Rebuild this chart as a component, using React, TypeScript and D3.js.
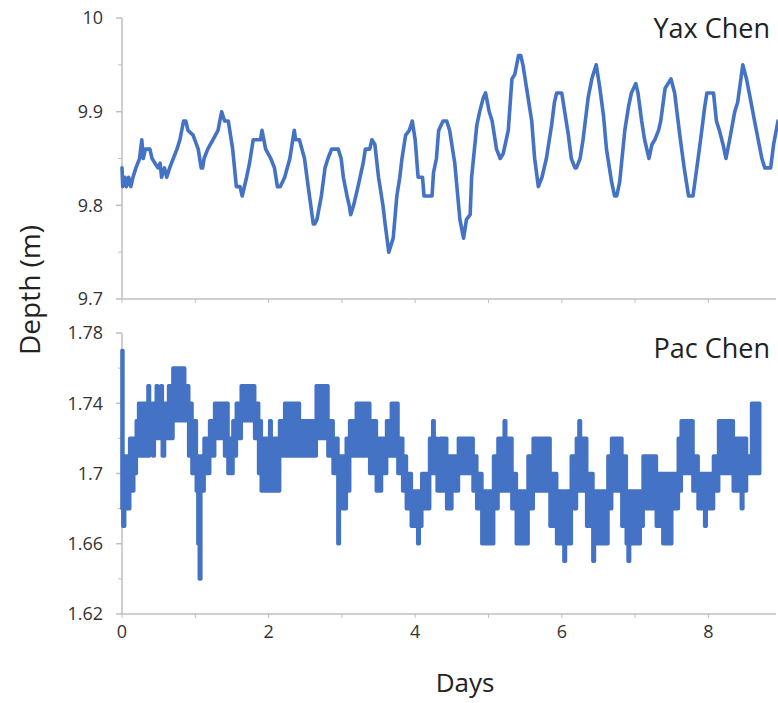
import React from "react";
import * as d3 from "d3";

// Yax Chen water depth: [day, depth (m)]
const yaxChen: [number, number][] = [
  [0.0, 9.84], [0.01, 9.82], [0.04, 9.83], [0.06, 9.82], [0.09, 9.83], [0.12, 9.82], [0.15, 9.83],
  [0.19, 9.84], [0.24, 9.85], [0.27, 9.87], [0.29, 9.85], [0.32, 9.86], [0.38, 9.86], [0.41, 9.85],
  [0.45, 9.845], [0.49, 9.84], [0.52, 9.845], [0.54, 9.83], [0.58, 9.84], [0.61, 9.83], [0.65, 9.84],
  [0.7, 9.85], [0.75, 9.86], [0.79, 9.87], [0.84, 9.89], [0.87, 9.89], [0.9, 9.88], [0.97, 9.875],
  [1.04, 9.86], [1.08, 9.84], [1.1, 9.84], [1.12, 9.85], [1.17, 9.86], [1.24, 9.87], [1.31, 9.88],
  [1.36, 9.9], [1.4, 9.89], [1.45, 9.89], [1.51, 9.86], [1.56, 9.82], [1.61, 9.82], [1.64, 9.81],
  [1.7, 9.83], [1.74, 9.845], [1.79, 9.87], [1.89, 9.87], [1.91, 9.88], [1.96, 9.86], [2.03, 9.85],
  [2.08, 9.84], [2.12, 9.82], [2.16, 9.82], [2.22, 9.83], [2.29, 9.85], [2.35, 9.88], [2.37, 9.87],
  [2.42, 9.87], [2.49, 9.85], [2.54, 9.82], [2.61, 9.78], [2.63, 9.78], [2.66, 9.785], [2.72, 9.81],
  [2.77, 9.84], [2.81, 9.85], [2.86, 9.86], [2.95, 9.86], [2.99, 9.85], [3.02, 9.83], [3.07, 9.81],
  [3.1, 9.8], [3.12, 9.79], [3.16, 9.8], [3.22, 9.82], [3.29, 9.845], [3.32, 9.86], [3.38, 9.86],
  [3.41, 9.87], [3.45, 9.865], [3.5, 9.83], [3.56, 9.8], [3.59, 9.78], [3.64, 9.75], [3.7, 9.765],
  [3.75, 9.81], [3.79, 9.83], [3.82, 9.85], [3.87, 9.875], [3.92, 9.88], [3.96, 9.89], [4.0, 9.87],
  [4.04, 9.83], [4.1, 9.83], [4.12, 9.81], [4.23, 9.81], [4.25, 9.835], [4.29, 9.85], [4.32, 9.88],
  [4.38, 9.89], [4.43, 9.89], [4.47, 9.88], [4.54, 9.845], [4.61, 9.785], [4.66, 9.765], [4.7, 9.785],
  [4.75, 9.79], [4.77, 9.83], [4.84, 9.885], [4.88, 9.9], [4.93, 9.915], [4.96, 9.92], [5.01, 9.9],
  [5.05, 9.89], [5.11, 9.86], [5.16, 9.85], [5.2, 9.855], [5.27, 9.88], [5.32, 9.935], [5.36, 9.94],
  [5.41, 9.96], [5.44, 9.96], [5.47, 9.95], [5.52, 9.925], [5.59, 9.89], [5.63, 9.85], [5.68, 9.82],
  [5.73, 9.83], [5.79, 9.85], [5.86, 9.885], [5.9, 9.91], [5.93, 9.92], [6.0, 9.92], [6.04, 9.9],
  [6.09, 9.875], [6.13, 9.85], [6.18, 9.84], [6.2, 9.84], [6.25, 9.85], [6.29, 9.87], [6.36, 9.915],
  [6.41, 9.935], [6.47, 9.95], [6.52, 9.925], [6.57, 9.895], [6.61, 9.86], [6.68, 9.825], [6.72, 9.81],
  [6.75, 9.81], [6.79, 9.825], [6.86, 9.88], [6.91, 9.905], [6.95, 9.92], [7.01, 9.93], [7.04, 9.92],
  [7.09, 9.89], [7.13, 9.87], [7.19, 9.85], [7.23, 9.865], [7.27, 9.87], [7.32, 9.88], [7.35, 9.89],
  [7.41, 9.925], [7.49, 9.935], [7.54, 9.92], [7.61, 9.875], [7.67, 9.84], [7.73, 9.81], [7.79, 9.81],
  [7.86, 9.85], [7.91, 9.88], [7.95, 9.905], [7.98, 9.92], [8.07, 9.92], [8.11, 9.89], [8.15, 9.88],
  [8.2, 9.865], [8.24, 9.85], [8.29, 9.87], [8.36, 9.9], [8.4, 9.91], [8.47, 9.95], [8.52, 9.935],
  [8.57, 9.915], [8.63, 9.89], [8.68, 9.87], [8.73, 9.85], [8.77, 9.84], [8.85, 9.84], [8.89, 9.865],
  [8.95, 9.89],
];

// Pac Chen water depth, fast oscillation range: [start day, low (m), high (m)]
const pacChen: [number, number, number][] = [
  [0.0, 1.68, 1.77], [0.012, 1.67, 1.71], [0.036, 1.68, 1.71], [0.105, 1.69, 1.72], [0.16, 1.7, 1.72],
  [0.195, 1.71, 1.73], [0.227, 1.71, 1.74], [0.355, 1.71, 1.75], [0.375, 1.72, 1.74], [0.42, 1.71, 1.74],
  [0.44, 1.72, 1.74], [0.468, 1.72, 1.75], [0.485, 1.72, 1.74], [0.53, 1.72, 1.75], [0.55, 1.71, 1.74],
  [0.58, 1.72, 1.74], [0.636, 1.72, 1.75], [0.695, 1.73, 1.76], [0.855, 1.73, 1.75], [0.91, 1.71, 1.74],
  [0.955, 1.7, 1.73], [1.014, 1.69, 1.71], [1.036, 1.66, 1.71], [1.055, 1.64, 1.7], [1.075, 1.69, 1.71],
  [1.12, 1.7, 1.72], [1.196, 1.71, 1.73], [1.264, 1.72, 1.74], [1.4, 1.71, 1.74], [1.446, 1.7, 1.72],
  [1.514, 1.71, 1.73], [1.56, 1.72, 1.74], [1.627, 1.73, 1.75], [1.81, 1.72, 1.74], [1.864, 1.7, 1.73],
  [1.9, 1.69, 1.72], [2.015, 1.7, 1.73], [2.035, 1.69, 1.72], [2.15, 1.71, 1.73], [2.22, 1.71, 1.74],
  [2.42, 1.71, 1.73], [2.65, 1.72, 1.75], [2.81, 1.71, 1.73], [2.88, 1.7, 1.72], [2.946, 1.66, 1.71],
  [2.965, 1.68, 1.71], [3.06, 1.69, 1.72], [3.106, 1.71, 1.73], [3.197, 1.71, 1.74], [3.38, 1.7, 1.73],
  [3.47, 1.69, 1.72], [3.54, 1.7, 1.72], [3.61, 1.71, 1.73], [3.675, 1.71, 1.74], [3.765, 1.7, 1.72],
  [3.83, 1.69, 1.71], [3.88, 1.68, 1.7], [3.947, 1.67, 1.69], [4.035, 1.66, 1.69], [4.055, 1.67, 1.69],
  [4.09, 1.68, 1.7], [4.197, 1.7, 1.72], [4.24, 1.7, 1.73], [4.258, 1.7, 1.72], [4.3, 1.69, 1.71],
  [4.34, 1.69, 1.72], [4.43, 1.68, 1.71], [4.5, 1.69, 1.71], [4.59, 1.7, 1.72], [4.79, 1.69, 1.71],
  [4.84, 1.68, 1.7], [4.91, 1.66, 1.69], [5.07, 1.68, 1.71], [5.13, 1.69, 1.72], [5.215, 1.69, 1.73],
  [5.235, 1.69, 1.72], [5.32, 1.68, 1.7], [5.38, 1.66, 1.69], [5.54, 1.68, 1.71], [5.61, 1.69, 1.72],
  [5.84, 1.67, 1.7], [5.93, 1.66, 1.69], [6.03, 1.65, 1.68], [6.05, 1.66, 1.69], [6.13, 1.68, 1.71],
  [6.2, 1.69, 1.72], [6.235, 1.69, 1.73], [6.255, 1.69, 1.72], [6.34, 1.67, 1.7], [6.425, 1.65, 1.69],
  [6.445, 1.66, 1.69], [6.63, 1.68, 1.71], [6.68, 1.69, 1.72], [6.82, 1.67, 1.71], [6.88, 1.66, 1.69],
  [6.905, 1.65, 1.69], [6.925, 1.66, 1.69], [7.07, 1.67, 1.69], [7.11, 1.68, 1.71], [7.29, 1.67, 1.7],
  [7.38, 1.66, 1.7], [7.5, 1.68, 1.7], [7.59, 1.69, 1.72], [7.63, 1.7, 1.73], [7.79, 1.69, 1.71],
  [7.86, 1.68, 1.7], [7.95, 1.67, 1.7], [7.97, 1.68, 1.7], [8.07, 1.69, 1.71], [8.14, 1.7, 1.73],
  [8.34, 1.69, 1.72], [8.45, 1.68, 1.72], [8.47, 1.69, 1.72], [8.52, 1.7, 1.71], [8.59, 1.7, 1.74],
  [8.7, 1.7, 1.74],
];

const dayTicks = [0, 2, 4, 6, 8];
const dayMinorTicks = [0, 1, 2, 3, 4, 5, 6, 7, 8];
const yaxTicks = [9.7, 9.8, 9.9, 10];
const yaxMinorTicks = [9.75, 9.85, 9.95];
const pacTicks = [1.62, 1.66, 1.7, 1.74, 1.78];
const pacMinorTicks = [1.64, 1.68, 1.72, 1.76];

const W = 778;
const H = 703;
const BLUE = "#4472c4";
const AXIS = "#bfbfbf";
const FONT = "'Open Sans', 'Noto Sans', sans-serif";

const x = d3.scaleLinear().domain([0, 8.95]).range([122, 778]);
const yTop = d3.scaleLinear().domain([9.7, 10]).range([299, 18]);
const yBot = d3.scaleLinear().domain([1.62, 1.78]).range([614, 333]);

const yaxLine = d3
  .line<[number, number]>()
  .x((d) => x(d[0]))
  .y((d) => yTop(d[1]));

const pacArea = d3
  .area<[number, number, number]>()
  .x((d) => x(d[0]))
  .y0((d) => yBot(d[1]))
  .y1((d) => yBot(d[2]))
  .curve(d3.curveStepAfter);

function YAxis({ scale, ticks, minor, fmt }: { scale: d3.ScaleLinear<number, number>; ticks: number[]; minor: number[]; fmt: (v: number) => string }) {
  const x0 = x(0);
  const [r0, r1] = scale.range();
  return (
    <g>
      <line x1={x0} x2={x0} y1={r0} y2={r1} stroke={AXIS} strokeWidth={1.5} />
      {ticks.map((t) => (
        <g key={t}>
          <line x1={x0 - 6} x2={x0} y1={scale(t)} y2={scale(t)} stroke={AXIS} strokeWidth={1.5} />
          <text x={x0 - 19} y={scale(t)} dy="0.36em" textAnchor="end" fontSize={18} fill="#333" fontFamily={FONT}>
            {fmt(t)}
          </text>
        </g>
      ))}
      {minor.map((t) => (
        <line key={t} x1={x0 - 4} x2={x0} y1={scale(t)} y2={scale(t)} stroke={AXIS} strokeWidth={1} />
      ))}
    </g>
  );
}

function XAxis({ y0, labels }: { y0: number; labels: boolean }) {
  return (
    <g>
      <line x1={x(0)} x2={776} y1={y0} y2={y0} stroke={AXIS} strokeWidth={1.5} />
      {dayMinorTicks.map((t) => (
        <line key={t} x1={x(t)} x2={x(t)} y1={y0} y2={y0 + 4} stroke={AXIS} strokeWidth={1} />
      ))}
      {labels &&
        dayTicks.map((t) => (
          <text key={t} x={x(t)} y={y0 + 24} textAnchor="middle" fontSize={18} fill="#333" fontFamily={FONT}>
            {t}
          </text>
        ))}
    </g>
  );
}

export default function App() {
  const fmtTop = (v: number) => (v === 10 ? "10" : d3.format(".1f")(v));
  const fmtBot = (v: number) => String(+v.toFixed(2));
  return (
    <svg width={W} height={H} style={{ position: "absolute", left: 0, top: 0, background: "#fff" }}>
      <rect width={W} height={H} fill="#fff" />
      {/* Upper panel: Yax Chen */}
      <XAxis y0={299} labels={false} />
      <YAxis scale={yTop} ticks={yaxTicks} minor={yaxMinorTicks} fmt={fmtTop} />
      <path d={yaxLine(yaxChen) ?? ""} fill="none" stroke={BLUE} strokeWidth={3.6} strokeLinejoin="round" strokeLinecap="round" />
      <text x={770} y={38} textAnchor="end" fontSize={27} fill="#222" fontFamily={FONT}>
        Yax Chen
      </text>

      {/* Lower panel: Pac Chen */}
      <XAxis y0={614} labels={true} />
      <YAxis scale={yBot} ticks={pacTicks} minor={pacMinorTicks} fmt={fmtBot} />
      <path d={pacArea(pacChen) ?? ""} fill={BLUE} stroke={BLUE} strokeWidth={3.6} strokeLinejoin="round" />
      <text x={770} y={358} textAnchor="end" fontSize={27} fill="#222" fontFamily={FONT}>
        Pac Chen
      </text>

      {/* Shared axis titles */}
      <text x={465} y={692} textAnchor="middle" fontSize={26} fill="#222" fontFamily={FONT}>
        Days
      </text>
      <text transform="translate(40,290) rotate(-90)" textAnchor="middle" fontSize={28} fill="#222" fontFamily={FONT}>
        Depth (m)
      </text>
    </svg>
  );
}
